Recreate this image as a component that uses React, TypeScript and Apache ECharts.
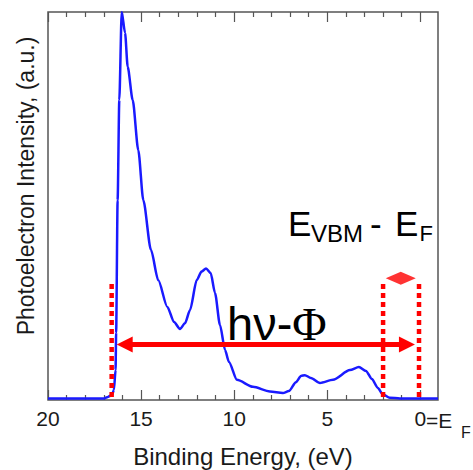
import React, { useEffect, useRef } from 'react';
import * as echarts from 'echarts';

// Spectrum: binding energy (eV) vs photoelectron intensity (a.u., 0..100)
const energy = [20, 16.99, 16.78, 16.56, 16.46, 16.37, 16.34, 16.26, 16.17, 16.04, 15.86, 15.72, 15.45, 15.15, 14.88, 14.47, 14.08, 13.59, 13.23, 12.91, 12.64, 12.37, 12.01, 11.75, 11.51, 11.26, 11.03, 10.76, 10.49, 10.28, 9.85, 8.99, 8.08, 7.38, 7.06, 6.68, 6.41, 6.2, 5.88, 5.39, 4.69, 3.78, 3.3, 2.92, 2.6, 2.28, 2.02, 1.64, 1.1, -0.95];
const intensity = [0.4, 0.4, 0.8, 1.3, 2.6, 7.7, 17.3, 51.5, 77.3, 100, 94.6, 85.9, 77.3, 64.4, 51.5, 38.7, 30.9, 24, 20.1, 18.3, 19.8, 23.2, 30.9, 33.1, 33.9, 32.7, 27.6, 19.3, 12.9, 9.8, 5.2, 3.4, 2.2, 1.8, 2.3, 4.6, 6.2, 6.4, 5.7, 4.4, 5.2, 7.7, 8.5, 7.5, 5.4, 3.1, 1.5, 0.6, 0.4, 0.4];

// Tick values
const majorTicks = [0, 5, 10, 15, 20];
const minorTicks = [1, 2, 3, 4, 6, 7, 8, 9, 11, 12, 13, 14, 16, 17, 18, 19];

// Annotation positions (data coordinates)
const cutoffEnergy = 16.58;
const vbmEnergy = 2.0;
const fermiEnergy = 0.07;
const markerBottom = 0.8;
const markerTop = 30;
const arrowLevel = 14.3;
const arrowFrom = 15.88;
const arrowTo = 0.72;
const diamondEnergy = 1.05;
const diamondLevel = 31.4;

const FONT = 'Liberation Sans, Arial, sans-serif';
const AXIS_COLOR = '#555';
const RED = '#ff0000';

export default function App() {
  const ref = useRef<HTMLDivElement>(null);
  useEffect(() => {
    if (!ref.current) return;
    const chart = echarts.init(ref.current, null, { renderer: 'svg' });
    const baseX = {
      type: 'value',
      min: -0.95,
      max: 20,
      inverse: true,
      axisLine: { show: false },
      splitLine: { show: false },
      axisLabel: { show: false },
    };
    const dashed = (x: number) => ({
      type: 'line',
      xAxisIndex: 0,
      data: [[x, markerBottom], [x, markerTop]],
      showSymbol: false,
      symbol: 'none',
      silent: true,
      lineStyle: { color: RED, width: 4.5, type: [5, 4], cap: 'butt' },
      z: 3,
    });
    const txt = (text: string, x: number, y: number, size: number) => ({
      type: 'text',
      x,
      y,
      style: { text, font: `${size}px ${FONT}`, fill: '#000', align: 'left', verticalAlign: 'middle' },
    });
    chart.setOption({
      animation: false,
      backgroundColor: '#fff',
      grid: {
        left: 48,
        right: 35,
        top: 12,
        bottom: 70,
        show: true,
        borderColor: AXIS_COLOR,
        borderWidth: 1.5,
        containLabel: false,
        outerBoundsMode: 'none',
      },
      xAxis: [
        {
          ...baseX,
          position: 'bottom',
          axisTick: { show: true, inside: true, length: 10, customValues: majorTicks, lineStyle: { color: AXIS_COLOR, width: 1.2 } },
          axisLabel: { show: true, customValues: majorTicks, fontSize: 21, color: '#1a1a1a', fontFamily: FONT, margin: 8 },
          name: 'Binding Energy, (eV)',
          nameLocation: 'middle',
          nameGap: 44,
          nameTextStyle: { fontSize: 24, color: '#1a1a1a', fontFamily: FONT },
        },
        {
          ...baseX,
          position: 'bottom',
          axisTick: { show: true, inside: true, length: 5, customValues: minorTicks, lineStyle: { color: AXIS_COLOR, width: 1.2 } },
        },
        {
          ...baseX,
          position: 'top',
          axisTick: { show: true, inside: true, length: 10, customValues: majorTicks, lineStyle: { color: AXIS_COLOR, width: 1.2 } },
        },
        {
          ...baseX,
          position: 'top',
          axisTick: { show: true, inside: true, length: 5, customValues: minorTicks, lineStyle: { color: AXIS_COLOR, width: 1.2 } },
        },
      ],
      yAxis: {
        type: 'value',
        min: 0,
        max: 100,
        axisLine: { show: false },
        axisTick: { show: false },
        axisLabel: { show: false },
        splitLine: { show: false },
      },
      series: [
        {
          type: 'line',
          xAxisIndex: 0,
          data: energy.map((e, i) => [e, intensity[i]]),
          showSymbol: false,
          symbol: 'none',
          smooth: 0.25,
          smoothMonotone: 'x',
          lineStyle: { color: '#1a1aff', width: 2.5 },
          z: 2,
          markLine: {
            silent: true,
            symbol: ['triangle', 'triangle'],
            symbolSize: 16,
            label: { show: false },
            lineStyle: { color: RED, width: 5, type: 'solid' },
            itemStyle: { color: RED },
            data: [[{ coord: [arrowFrom, arrowLevel] }, { coord: [arrowTo, arrowLevel] }]],
            z: 4,
          },
        },
        dashed(cutoffEnergy),
        dashed(vbmEnergy),
        dashed(fermiEnergy),
        {
          type: 'scatter',
          xAxisIndex: 0,
          data: [[diamondEnergy, diamondLevel]],
          symbol: 'diamond',
          symbolSize: [30, 13],
          itemStyle: { color: RED },
          silent: true,
          z: 4,
        },
      ],
      graphic: [
        {
          type: 'text',
          x: 26,
          y: 186,
          rotation: Math.PI / 2,
          style: { text: 'Photoelectron Intensity, (a.u.)', font: `23px ${FONT}`, fill: '#1a1a1a', align: 'center', verticalAlign: 'middle' },
        },
        {
          type: 'text',
          x: 426,
          y: 420.7,
          style: { text: '=E', font: `21px ${FONT}`, fill: '#1a1a1a', align: 'left', verticalAlign: 'middle' },
        },
        {
          type: 'text',
          x: 461,
          y: 432,
          style: { text: 'F', font: `16px ${FONT}`, fill: '#1a1a1a', align: 'left', verticalAlign: 'middle' },
        },
        {
          type: 'text',
          x: 227,
          y: 323.5,
          style: {
            text: '{a|hν-}{b|Φ}',
            verticalAlign: 'middle',
            align: 'left',
            rich: {
              a: { font: `47px ${FONT}`, fill: '#000' },
              b: { font: `47px Liberation Serif, serif`, fill: '#000' },
            },
          },
        },
        txt('E', 288, 223, 35),
        txt('VBM', 311, 233.5, 24),
        txt('-', 370, 223, 35),
        txt('E', 395, 223, 35),
        txt('F', 419.5, 233.5, 22),
      ],
    });
    return () => chart.dispose();
  }, []);
  return <div ref={ref} style={{ position: 'fixed', left: 0, top: 0, width: 473, height: 470 }} />;
}
